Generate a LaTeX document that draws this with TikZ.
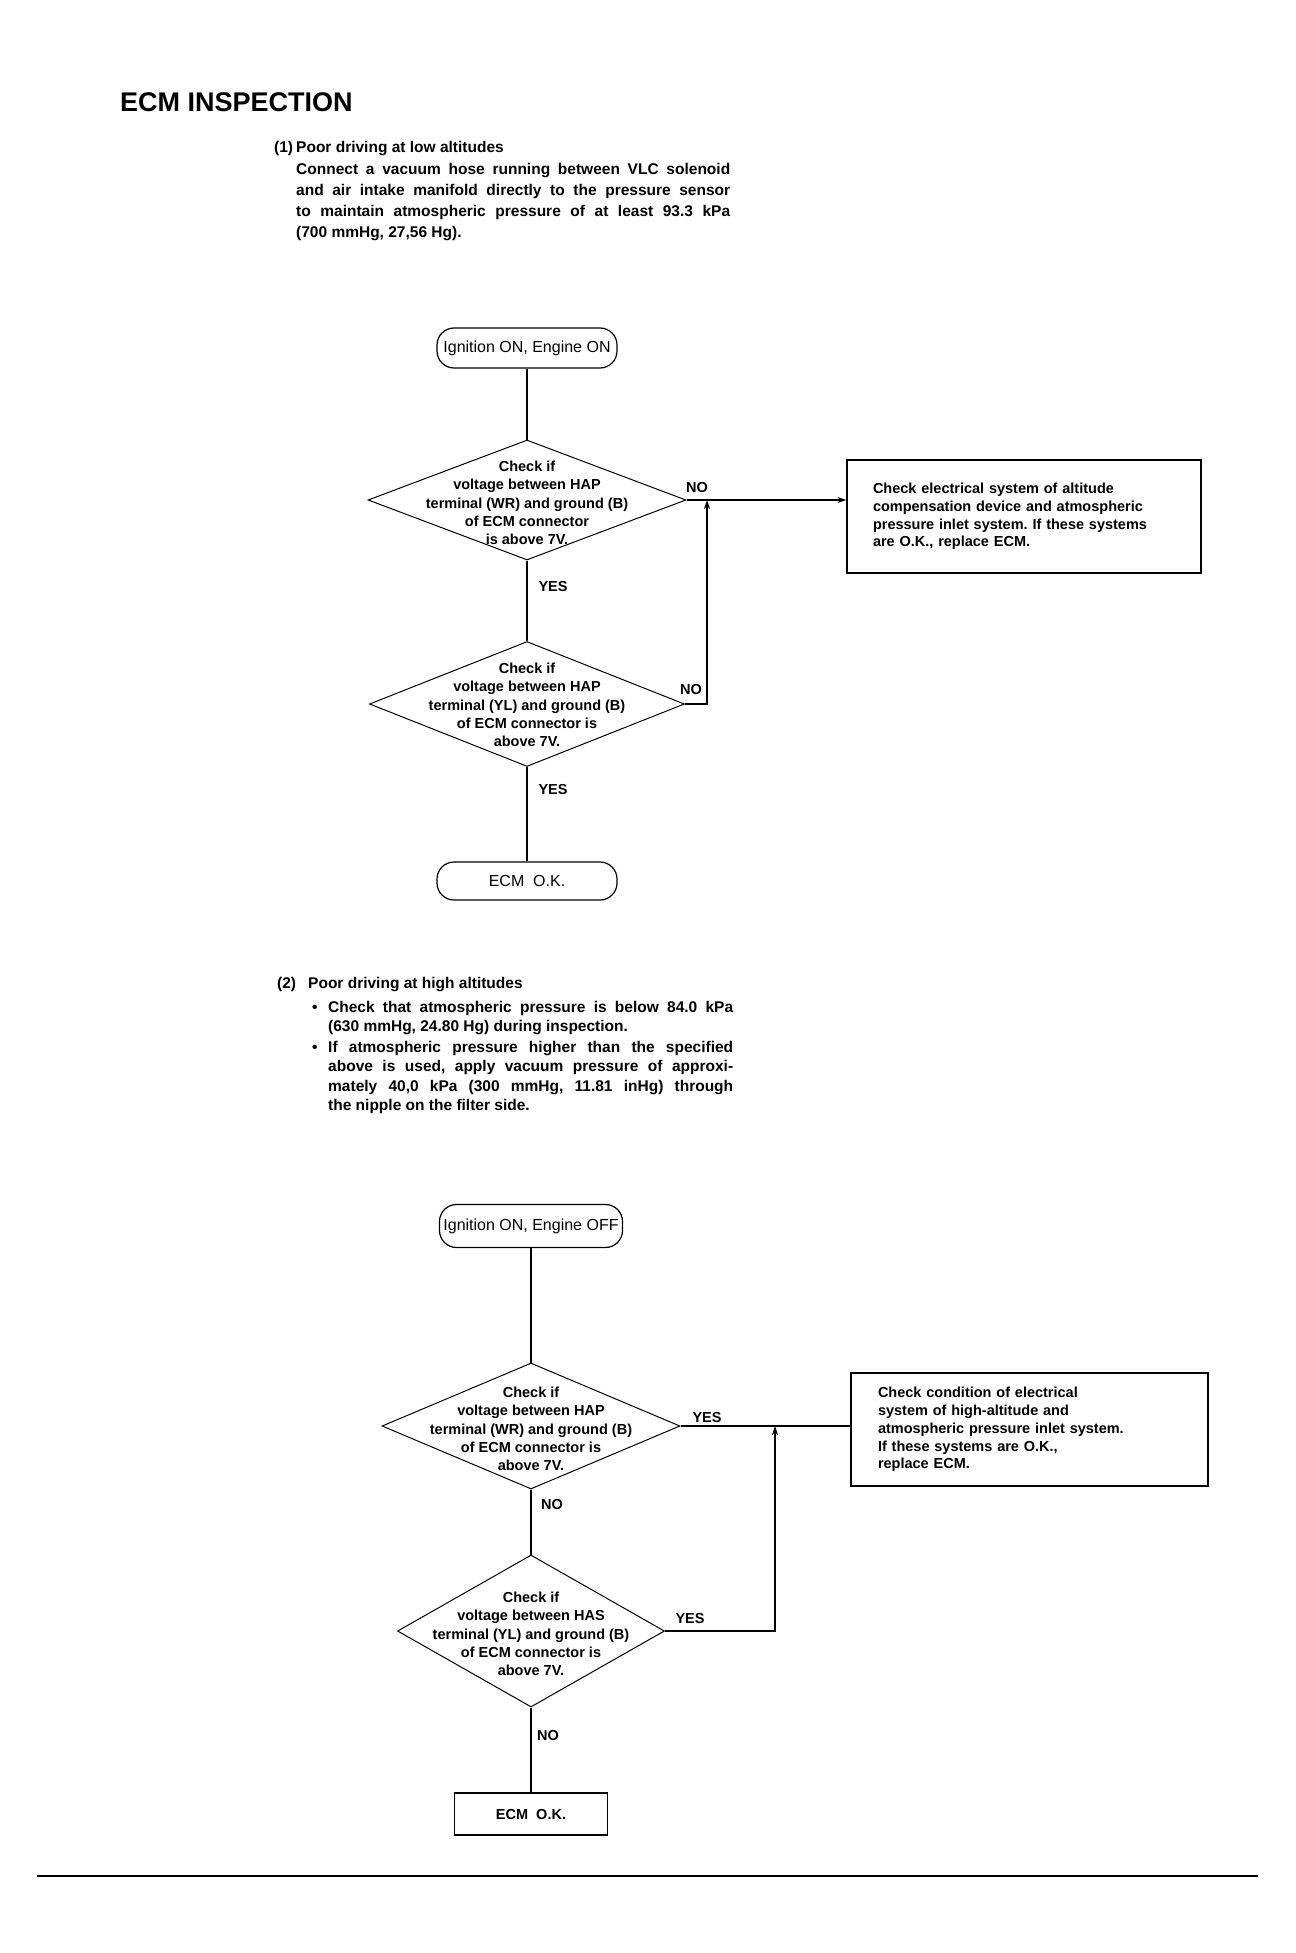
\documentclass[tikz,border=0pt]{standalone}
\usepackage{fontspec}
\setmainfont{Liberation Sans}
\usetikzlibrary{shapes.geometric,arrows.meta}
\frenchspacing
\begin{document}
\begin{tikzpicture}[x=1pt,y=-1pt,
  txt/.style={anchor=base west,inner sep=0pt,font=\bfseries\fontsize{15.5}{21}\selectfont},
  dia/.style={diamond,draw,line width=1pt,inner sep=0pt},
  dtext/.style={align=center,inner sep=0pt,font=\bfseries\fontsize{14.5}{18.3}\selectfont},
  term/.style={draw,rounded corners=17pt,line width=1.2pt,inner sep=0pt,font=\fontsize{16}{19}\selectfont},
  infobox/.style={draw,line width=1.2pt,align=left,inner ysep=0pt,font=\bfseries\fontsize{14.5}{17.8}\selectfont},
  lbl/.style={inner sep=0pt,font=\bfseries\fontsize{14.5}{17}\selectfont},
  conn/.style={line width=1.3pt},
  arr/.style={line width=1.3pt,-{Stealth[length=9pt,width=6pt]}}]
\useasboundingbox (0,0) rectangle (1295,1953);
\fill[white] (0,0) rectangle (1295,1953);

% title
\node[anchor=base west,inner sep=0pt,font=\bfseries\fontsize{27}{30}\selectfont] (title) at (120,112) {ECM INSPECTION};

% paragraph 1
\node[txt] (p1n) at (274,153) {(1)};
\node[txt] (p1h) at (296,153) {Poor driving at low altitudes};
\node[txt] (p1a) at (296,175) {\makebox[434pt][s]{Connect a vacuum hose running between VLC solenoid}};
\node[txt] (p1b) at (296,196) {\makebox[434pt][s]{and air intake manifold directly to the pressure sensor}};
\node[txt] (p1c) at (296,217) {\makebox[434pt][s]{to maintain atmospheric pressure of at least 93.3 kPa}};
\node[txt] (p1d) at (296,238) {(700 mmHg, 27,56 Hg).};

% flowchart 1
\node[term,minimum width=180pt,minimum height=40pt] (t1) at (527,348) {Ignition ON, Engine ON};
\node[dia,minimum width=318pt,minimum height=120pt] (d1) at (527,500) {};
\node[dtext] (d1t) at (527,503) {Check if\\voltage between HAP\\terminal (WR) and ground (B)\\of ECM connector\\is above 7V.};
\node[dia,minimum width=315pt,minimum height=125pt] (d2) at (527,704) {};
\node[dtext] (d2t) at (527,705) {Check if\\voltage between HAP\\terminal (YL) and ground (B)\\of ECM connector is\\above 7V.};
\node[term,minimum width=180pt,minimum height=38pt] (t2) at (527,881) {ECM\ \ O.K.};
\node[infobox,text width=302pt,inner xsep=26pt,minimum height=113pt] (b1) at (1024,516.5) {Check electrical system of altitude\\compensation device and atmospheric\\pressure inlet system. If these systems\\are O.K., replace ECM.};
\coordinate (j1) at (707,500);

\draw[conn] (t1.south) -- (d1.north);
\draw[conn] (d1.south) -- (d2.north);
\draw[conn] (d2.south) -- (t2.north);
\draw[arr] (d1.east) -- (d1.east -| b1.west);
\draw[arr] (d2.east) -| (j1);
\node[lbl] (no1) at (697,488) {NO};
\node[lbl] (yes1) at (553,587) {YES};
\node[lbl] (no2) at (691,690) {NO};
\node[lbl] (yes2) at (553,790) {YES};

% paragraph 2
\node[txt] (p2n) at (277,988) {(2)};
\node[txt] (p2h) at (308,988) {Poor driving at high altitudes};
\node[txt] (bu1) at (312,1012) {\textbullet};
\node[txt] (p2a) at (328,1012) {\makebox[405pt][s]{Check that atmospheric pressure is below 84.0 kPa}};
\node[txt] (p2b) at (328,1031) {(630 mmHg, 24.80 Hg) during inspection.};
\node[txt] (bu2) at (312,1052) {\textbullet};
\node[txt] (p2c) at (328,1052) {\makebox[405pt][s]{If atmospheric pressure higher than the specified}};
\node[txt] (p2d) at (328,1071) {\makebox[405pt][s]{above is used, apply vacuum pressure of approxi-}};
\node[txt] (p2e) at (328,1091) {\makebox[405pt][s]{mately 40,0 kPa (300 mmHg, 11.81 inHg) through}};
\node[txt] (p2f) at (328,1110) {the nipple on the filter side.};

% flowchart 2
\node[term,minimum width=183pt,minimum height=43pt] (t3) at (531,1226) {Ignition ON, Engine OFF};
\node[dia,minimum width=298pt,minimum height=126pt] (d3) at (531,1426) {};
\node[dtext] (d3t) at (531,1429) {Check if\\voltage between HAP\\terminal (WR) and ground (B)\\of ECM connector is\\above 7V.};
\node[dia,minimum width=267pt,minimum height=152pt] (d4) at (531,1631) {};
\node[dtext] (d4t) at (531,1634) {Check if\\voltage between HAS\\terminal (YL) and ground (B)\\of ECM connector is\\above 7V.};
\node[draw,line width=1.2pt,minimum width=153pt,minimum height=42pt,inner sep=0pt,font=\bfseries\fontsize{14.5}{17}\selectfont] (b3) at (531,1814) {ECM\ \ O.K.};
\node[infobox,text width=303pt,inner xsep=27pt,minimum height=113pt] (b2) at (1029.5,1429.5) {Check condition of electrical\\system of high-altitude and\\atmospheric pressure inlet system.\\If these systems are O.K.,\\replace ECM.};
\coordinate (j2) at (775,1426);

\draw[conn] (t3.south) -- (d3.north);
\draw[conn] (d3.south) -- (d4.north);
\draw[conn] (d4.south) -- (b3.north);
\draw[conn] (d3.east) -- (d3.east -| b2.west);
\draw[arr] (d4.east) -| (j2);
\node[lbl] (yes3) at (707,1417) {YES};
\node[lbl] (no3) at (552,1504) {NO};
\node[lbl] (yes4) at (690,1618) {YES};
\node[lbl] (no4) at (548,1735) {NO};

% bottom rule
\draw[line width=2pt] (37,1876) -- (1258,1876);
\end{tikzpicture}
\end{document}
